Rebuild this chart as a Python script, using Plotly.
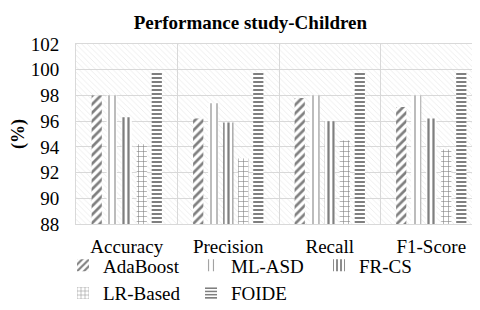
import plotly.graph_objects as go

categories = ["Accuracy", "Precision", "Recall", "F1-Score"]
adaboost = [98.0, 96.2, 97.8, 97.1]
ml_asd = [98.0, 97.4, 98.0, 98.0]
fr_cs = [96.3, 95.9, 96.0, 96.2]
lr_based = [94.2, 93.1, 94.5, 93.8]
foide = [99.9, 99.8, 99.8, 99.9]

y_min, y_max = 88, 102
tick_vals = [88, 90, 92, 94, 96, 98, 100, 102]

series = [
    ("AdaBoost", adaboost, dict(shape="/", size=6, solidity=0.45, fgcolor="black")),
    ("ML-ASD", ml_asd, dict(shape="|", size=6, solidity=0.22, fgcolor="#333333")),
    ("FR-CS", fr_cs, dict(shape="|", size=5, solidity=0.45, fgcolor="black")),
    ("LR-Based", lr_based, dict(shape="+", size=5, solidity=0.22, fgcolor="black")),
    ("FOIDE", foide, dict(shape="-", size=4, solidity=0.5, fgcolor="black")),
]

fig = go.Figure()

# hatched plot background (drawn on underlying axis)
fig.add_trace(go.Bar(
    x=[0.5], y=[y_max - y_min], base=[y_min], width=[1.0],
    xaxis="x", yaxis="y", showlegend=False, hoverinfo="skip",
    marker=dict(color="rgba(0,0,0,0)", line=dict(width=0),
                pattern=dict(shape="\\", size=4, solidity=0.2,
                             fgcolor="#d4d4d4", bgcolor="rgba(0,0,0,0)")),
))

for name, vals, pat in series:
    fig.add_trace(go.Bar(
        x=categories, y=[v - y_min for v in vals], base=y_min, name=name,
        xaxis="x2", yaxis="y",
        marker=dict(color="white", line=dict(width=0),
                    pattern=dict(bgcolor="white", **pat)),
    ))

font = "Liberation Serif, serif"
fig.update_layout(
    width=480, height=310,
    margin=dict(l=68, r=6, t=36, b=83),
    paper_bgcolor="white", plot_bgcolor="white",
    font=dict(family=font, size=19, color="black"),
    title=dict(text="<b>Performance study-Children</b>", x=0.505, xanchor="center",
               y=0.953, yanchor="middle", font=dict(size=19, family=font)),
    barmode="group", bargap=0.26, bargroupgap=0.32,
    xaxis=dict(range=[0, 1], visible=False, fixedrange=True),
    xaxis2=dict(overlaying="x", side="bottom", type="category", tickson="boundaries",
                showgrid=True, gridcolor="#d9d9d9", gridwidth=1, ticks="",
                showline=True, linecolor="#d9d9d9", mirror=True, automargin=False,
                ticklabelstandoff=5,
                tickfont=dict(size=19, family=font)),
    yaxis=dict(range=[y_min, y_max], tickvals=tick_vals, showgrid=True,
               gridcolor="#d9d9d9", gridwidth=1, zeroline=False,
               showline=True, linecolor="#d9d9d9", mirror=True, ticks="",
               ticklabelstandoff=12, automargin=False,
               tickfont=dict(size=19, family=font),
               title=dict(text="<b>(%)</b>", font=dict(size=18, family=font), standoff=2)),
    legend=dict(orientation="h", x=-0.032, xanchor="left", y=-0.125, yanchor="top",
                entrywidth=83, entrywidthmode="pixels", traceorder="normal",
                font=dict(size=19, family=font), itemsizing="constant",
                tracegroupgap=0, bgcolor="rgba(0,0,0,0)"),
)

fig.write_html("out.html")
